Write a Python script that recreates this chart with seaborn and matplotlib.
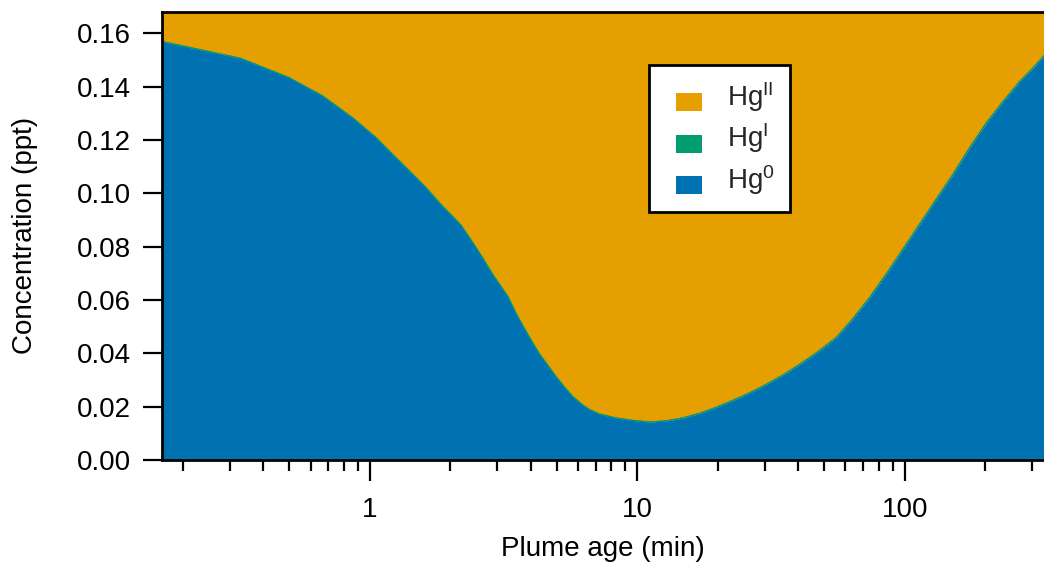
import numpy as np
import pandas as pd
import matplotlib
matplotlib.use("Agg")
import matplotlib.pyplot as plt
from matplotlib.patches import Patch, Rectangle
from matplotlib.legend_handler import HandlerPatch
from matplotlib.ticker import LogLocator, NullFormatter, FixedLocator
import seaborn as sns

# Plume age (min) and speciated mercury concentrations (ppt)
plume_age = [0.1667, 0.3279, 0.4972, 0.6628, 0.8585, 1.050, 1.212, 1.400, 1.617, 1.866,
             2.192, 2.416, 2.634, 2.872, 3.280, 3.513, 3.719, 4.054, 4.295, 4.682,
             4.961, 5.408, 5.725, 6.240, 6.611, 7.204, 8.322, 9.603, 11.09, 12.81,
             14.78, 17.07, 19.72, 22.75, 26.27, 30.34, 35.02, 40.44, 46.70, 55.49,
             64.04, 73.95, 85.41, 98.55, 113.8, 131.4, 151.7, 175.2, 202.3, 233.4,
             269.6, 302.4, 331.6]
hg0 = [0.1569, 0.1506, 0.1434, 0.1366, 0.1284, 0.1210, 0.1147, 0.1085, 0.1022, 0.0952,
       0.0880, 0.0817, 0.0759, 0.0697, 0.0613, 0.0551, 0.0506, 0.0440, 0.0399, 0.0347,
       0.0313, 0.0266, 0.0238, 0.0206, 0.0189, 0.0172, 0.0157, 0.0148, 0.0142, 0.0146,
       0.0157, 0.0174, 0.0197, 0.0223, 0.0251, 0.0283, 0.0318, 0.0358, 0.0401, 0.0459,
       0.0530, 0.0609, 0.0698, 0.0791, 0.0885, 0.0979, 0.1072, 0.1172, 0.1265, 0.1345,
       0.1420, 0.1471, 0.1516]
hg1 = [0.0] * 53
hg2 = [0.0111, 0.0174, 0.0246, 0.0314, 0.0396, 0.0470, 0.0533, 0.0595, 0.0658, 0.0728,
       0.0800, 0.0863, 0.0921, 0.0983, 0.1067, 0.1129, 0.1174, 0.1240, 0.1281, 0.1333,
       0.1367, 0.1414, 0.1442, 0.1474, 0.1491, 0.1508, 0.1523, 0.1532, 0.1538, 0.1534,
       0.1523, 0.1506, 0.1483, 0.1457, 0.1429, 0.1397, 0.1362, 0.1322, 0.1279, 0.1221,
       0.1150, 0.1071, 0.0982, 0.0889, 0.0795, 0.0701, 0.0608, 0.0508, 0.0415, 0.0335,
       0.0260, 0.0209, 0.0164]
labels = ["Hg$^{0}$", "Hg$^{\\mathrm{I}}$", "Hg$^{\\mathrm{II}}$"]
colors = ["#0072B2", "#009E73", "#E69F00"]

df = pd.DataFrame({"age": plume_age, "Hg0": hg0, "HgI": hg1, "HgII": hg2})

sns.set_theme(style="ticks")
plt.rcParams["font.family"] = ["Liberation Sans", "DejaVu Sans"]
plt.rcParams["mathtext.fontset"] = "custom"
plt.rcParams["mathtext.rm"] = "Liberation Sans"
plt.rcParams["mathtext.it"] = "Liberation Sans"

fig = plt.figure(figsize=(10.44, 5.67), dpi=100)
ax = fig.add_axes([0.155, 0.189, 0.845, 0.790])

# stacked areas: Hg0 at the bottom, then HgI, then HgII
ax.stackplot(df["age"], df["Hg0"], df["HgI"], df["HgII"],
             colors=colors, linewidth=0)
tops = np.cumsum(df[["Hg0", "HgI", "HgII"]].to_numpy(), axis=1)
for k, c in enumerate(colors):
    sns.lineplot(x=df["age"], y=tops[:, k], ax=ax, color=c, linewidth=0.8,
                 estimator=None, sort=False, legend=False)

ax.set_xscale("log")
ax.set_xlim(0.1667, 331.6)
ax.set_ylim(0, 0.168)
yt = np.arange(0, 0.161, 0.02)
ax.set_yticks(yt)
ax.set_yticklabels([f"{v:.2f}" for v in yt])
ax.xaxis.set_major_locator(FixedLocator([1, 10, 100]))
ax.set_xticklabels(["1", "10", "100"])
ax.xaxis.set_minor_locator(LogLocator(base=10, subs=np.arange(2, 10)))
ax.xaxis.set_minor_formatter(NullFormatter())

ax.tick_params(axis="both", which="major", labelsize=20, width=1.6,
               color="black", labelcolor="black", direction="out")
ax.tick_params(axis="x", which="major", length=15, pad=12)
ax.tick_params(axis="y", which="major", length=14, pad=8)
ax.tick_params(axis="x", which="minor", length=8, width=1.6, color="black")

for side in ["left", "bottom", "top"]:
    ax.spines[side].set_color("black")
    ax.spines[side].set_linewidth(2)
ax.spines["right"].set_visible(False)

ax.set_xlabel("Plume age (min)", fontsize=20, color="black", labelpad=9)
ax.set_ylabel("Concentration (ppt)", fontsize=20, color="black", labelpad=28)
ax.grid(False)


def swatch(legend, orig_handle, xdescent, ydescent, width, height, fontsize):
    # colour swatch at the right end of the handle box, level with the "Hg"
    w = 0.94 * fontsize
    return Rectangle((width - w - xdescent, -ydescent - 0.22 * fontsize), w, height)


handles = [Patch(facecolor=colors[i], edgecolor="none") for i in [2, 1, 0]]
leg = ax.legend(handles, [labels[i] for i in [2, 1, 0]],
                loc="upper left", bbox_to_anchor=(0.552, 0.882),
                borderaxespad=0, fontsize=20, frameon=True, fancybox=False,
                handlelength=1.36, handleheight=0.62, handletextpad=0.9,
                labelspacing=0.28, borderpad=0.55,
                handler_map={Patch: HandlerPatch(patch_func=swatch)})
leg.get_frame().set_edgecolor("black")
leg.get_frame().set_linewidth(2)
leg.get_frame().set_facecolor("white")
leg.get_frame().set_alpha(1)

fig.savefig("out.png", dpi=100)
